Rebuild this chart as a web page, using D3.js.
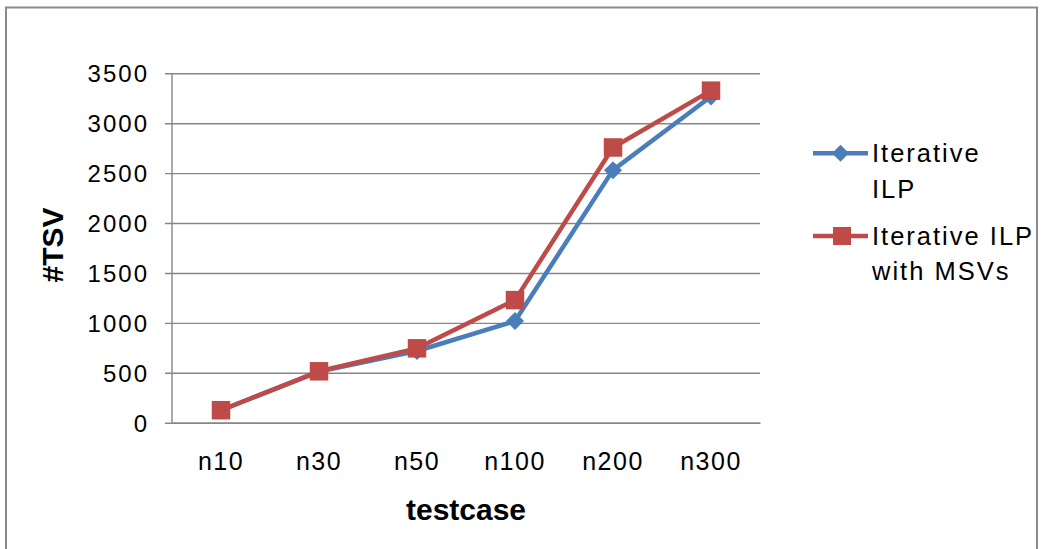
<!DOCTYPE html>
<html>
<head>
<meta charset="utf-8">
<script src="https://cdn.jsdelivr.net/npm/d3@7"></script>
<style>
  html, body { margin: 0; padding: 0; background: #fff; }
  svg { display: block; }
  text { font-family: "Liberation Sans", Arial, sans-serif; fill: #000; }
</style>
</head>
<body>
<svg id="chart" width="1041" height="549"></svg>
<script>
// Test cases on the category axis
const categories = ["n10", "n30", "n50", "n100", "n200", "n300"];
// #TSV per test case
const iterativeILP = [125, 512, 718, 1018, 2530, 3268];
const iterativeILPWithMSVs = [125, 515, 745, 1228, 2757, 3326];
// Value axis ticks
const yTicks = [0, 500, 1000, 1500, 2000, 2500, 3000, 3500];
const seriesNames = [["Iterative", "ILP"], ["Iterative ILP", "with MSVs"]];

const svg = d3.select("#chart");
const plot = { left: 172, right: 760, top: 73.3, bottom: 422.7 };

// outer chart frame
svg.append("rect")
  .attr("x", 6).attr("y", 7.5)
  .attr("width", 1031).attr("height", 560)
  .attr("fill", "none").attr("stroke", "#8a8a8a").attr("stroke-width", 2);

const x = d3.scaleBand().domain(categories).range([plot.left, plot.right]);
const y = d3.scaleLinear().domain([0, 3500]).range([plot.bottom, plot.top]);

// horizontal gridlines with short tick marks to the left of the axis
const yAxis = d3.axisLeft(y).tickValues(yTicks).tickFormat(d3.format("d"))
  .tickSize(plot.right - plot.left + 7).tickPadding(16);
const gy = svg.append("g")
  .attr("transform", `translate(${plot.right},0)`)
  .call(yAxis);
gy.select(".domain").remove();
gy.selectAll(".tick line").attr("stroke", "#868686").attr("stroke-width", 1.4);
gy.selectAll(".tick text")
  .attr("dy", null).attr("y", 8.5)
  .style("font-size", "24px").style("letter-spacing", "2px")
  .style("font-family", '"Liberation Sans", Arial, sans-serif').attr("fill", "#000");

// vertical value axis line
svg.append("line")
  .attr("x1", plot.left).attr("x2", plot.left)
  .attr("y1", y(3500)).attr("y2", y(0))
  .attr("stroke", "#868686").attr("stroke-width", 1.4);

// category labels
const xAxis = d3.axisBottom(x).tickSize(0).tickPadding(0);
const gx = svg.append("g").attr("transform", `translate(0,${plot.bottom})`).call(xAxis);
gx.select(".domain").attr("stroke", "#868686").attr("stroke-width", 1.4);
gx.selectAll(".tick text")
  .attr("dy", null).attr("y", 47.5)
  .style("font-size", "25px").style("letter-spacing", "1.5px")
  .style("font-family", '"Liberation Sans", Arial, sans-serif').attr("fill", "#000");

// axis titles
svg.append("text")
  .attr("x", 466).attr("y", 520)
  .attr("text-anchor", "middle")
  .style("font-size", "30px").style("font-weight", "bold")
  .text("testcase");
svg.append("text")
  .attr("transform", "translate(63,245) rotate(-90)")
  .attr("text-anchor", "middle")
  .style("font-size", "30px").style("font-weight", "bold")
  .text("#TSV");

const blue = "#4a7ebb", red = "#be4b48";
const cx = c => x(c) + x.bandwidth() / 2;

const line = d3.line().x((d, i) => cx(categories[i])).y(d => y(d));

function diamond(g, px, py, r, color) {
  g.append("path")
    .attr("d", `M${px},${py - r}L${px + r},${py}L${px},${py + r}L${px - r},${py}Z`)
    .attr("fill", color);
}
function square(g, px, py, s, color) {
  g.append("rect")
    .attr("x", px - s / 2).attr("y", py - s / 2)
    .attr("width", s).attr("height", s)
    .attr("fill", color);
}

// Iterative ILP series
const g1 = svg.append("g");
g1.append("path").datum(iterativeILP)
  .attr("d", line).attr("fill", "none")
  .attr("stroke", blue).attr("stroke-width", 4.5).attr("stroke-linejoin", "round");
iterativeILP.forEach((v, i) => diamond(g1, cx(categories[i]), y(v), 9, blue));

// Iterative ILP with MSVs series
const g2 = svg.append("g");
g2.append("path").datum(iterativeILPWithMSVs)
  .attr("d", line).attr("fill", "none")
  .attr("stroke", red).attr("stroke-width", 4.5).attr("stroke-linejoin", "round");
iterativeILPWithMSVs.forEach((v, i) => square(g2, cx(categories[i]), y(v), 18.5, red));

// legend
const legend = svg.append("g");
const items = [
  { color: blue, marker: "diamond", ly: 153.3, lines: seriesNames[0], base: 161.7, gap: 36.6 },
  { color: red, marker: "square", ly: 236, lines: seriesNames[1], base: 245, gap: 35 }
];
items.forEach(it => {
  legend.append("line")
    .attr("x1", 813).attr("x2", 868)
    .attr("y1", it.ly).attr("y2", it.ly)
    .attr("stroke", it.color).attr("stroke-width", 4.5);
  if (it.marker === "diamond") diamond(legend, 840.5, it.ly, 8.5, it.color);
  else square(legend, 842, it.ly, 18, it.color);
  it.lines.forEach((t, k) => {
    legend.append("text")
      .attr("x", 872).attr("y", it.base + k * it.gap)
      .style("font-size", "25.5px").style("letter-spacing", "2px")
      .text(t);
  });
});
</script>
</body>
</html>
